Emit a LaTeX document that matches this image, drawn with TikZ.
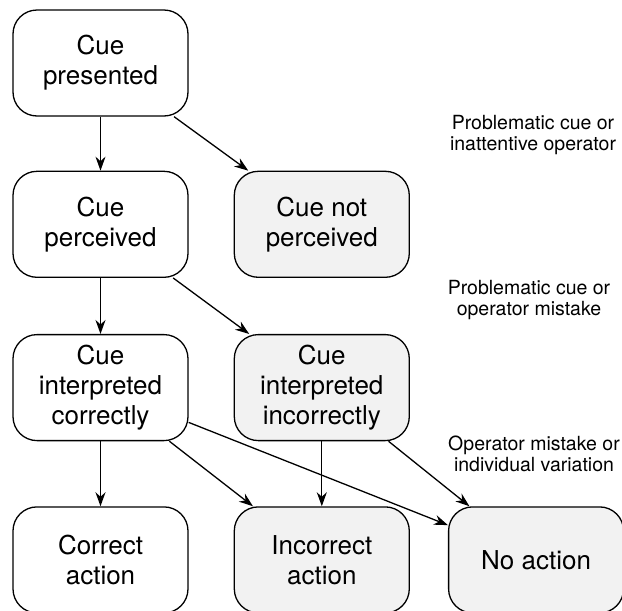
\documentclass[tikz,border=0pt]{standalone}
\usepackage{fontspec}
\setmainfont{TeX Gyre Heros}
\usetikzlibrary{positioning,arrows.meta}

\begin{document}
\begin{tikzpicture}[
  x=1pt, y=1pt,
  >={Stealth[length=14pt,width=10pt]},
  node distance=54pt and 45pt,
  stage/.style={rectangle, rounded corners=24pt, draw=black, line width=1.3pt, fill=white, align=center, minimum width=175pt, minimum height=106pt, font=\fontsize{26}{30}\selectfont},
  fail/.style={stage, fill=gray!10},
  note/.style={align=center, font=\fontsize{19.5}{21.5}\selectfont},
  link/.style={->, line width=1.3pt}
]
\useasboundingbox (0,0) rectangle (622,-611);
\node[stage] (pres) at (100.5,-63) {Cue\\presented};
\node[stage, below=of pres] (perc) {Cue\\perceived};
\node[fail, right=of perc] (notperc) {Cue not\\perceived};
\node[stage, below=56pt of perc] (intok) {Cue\\interpreted\\correctly};
\node[fail, right=of intok] (intbad) {Cue\\interpreted\\incorrectly};
\node[stage, below=65pt of intok] (actok) {Correct\\action};
\node[fail, right=of actok] (actbad) {Incorrect\\action};
\node[fail, right=38pt of actbad] (noact) {No action};
\node[note] (why1) at (533,-135) {Problematic cue or\\inattentive operator};
\node[note] (why2) at (529,-300) {Problematic cue or\\operator mistake};
\node[note] (why3) at (534,-454) {Operator mistake or\\individual variation};
\draw[link] (pres) -- (perc);
\draw[link] (pres) -- (notperc);
\draw[link] (perc) -- (intok);
\draw[link] (perc) -- (intbad);
\draw[link] (intok) -- (actok);
\draw[link] (intok) -- (actbad);
\draw[link] (intok) -- (noact);
\draw[link] (intbad) -- (actbad);
\draw[link] (intbad) -- (noact);
\end{tikzpicture}
\end{document}
